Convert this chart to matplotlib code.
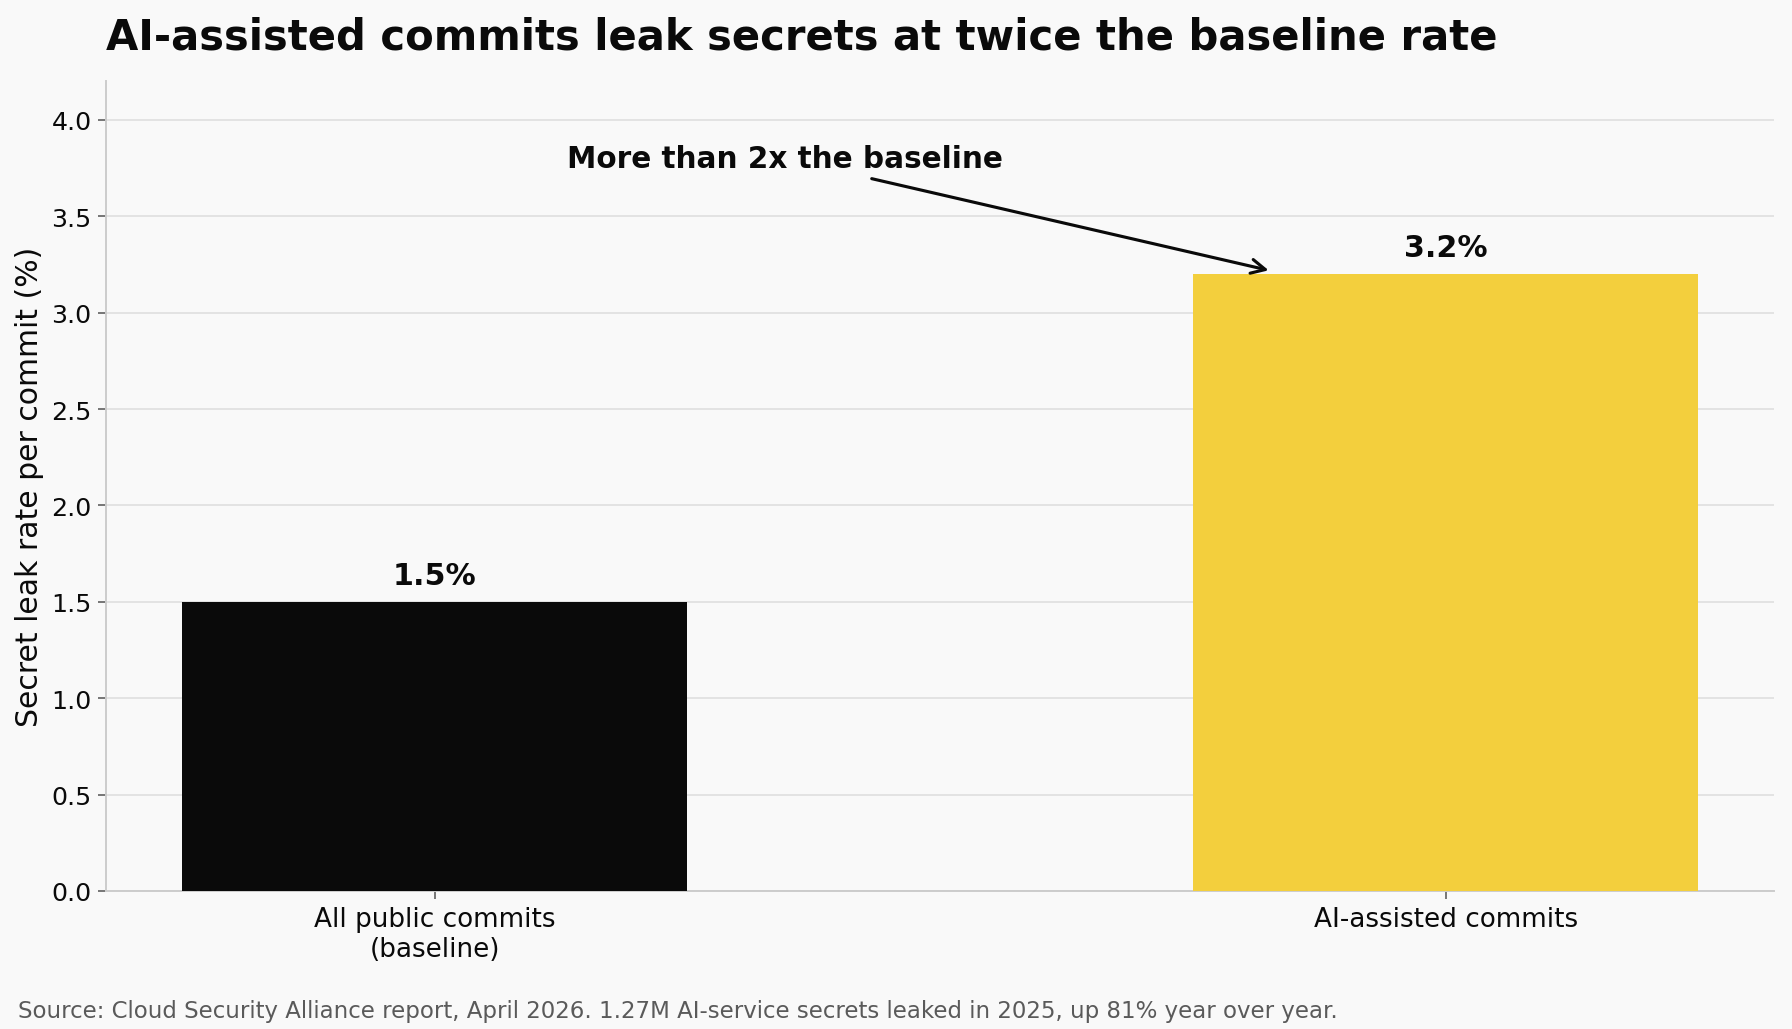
import matplotlib
matplotlib.use("Agg")
import matplotlib.pyplot as plt

# Data
categories = ["All public commits\n(baseline)", "AI-assisted commits"]
leak_rates = [1.5, 3.2]
bar_labels = ["1.5%", "3.2%"]
bar_colors = ["#0a0a0a", "#f3cf3d"]

title = "AI-assisted commits leak secrets at twice the baseline rate"
ylabel = "Secret leak rate per commit (%)"
note = "More than 2x the baseline"
source = ("Source: Cloud Security Alliance report, April 2026. "
          "1.27M AI-service secrets leaked in 2025, up 81% year over year.")

bg = "#f9f9f9"
plt.rcParams["font.family"] = ["DejaVu Sans"]

fig = plt.figure(figsize=(12.8, 7.357), dpi=140, facecolor=bg)
ax = fig.add_axes([0.0593, 0.134, 0.9307, 0.786], facecolor=bg)

x = range(len(categories))
ax.bar(x, leak_rates, width=0.5, color=bar_colors, zorder=3)

for xi, v, lab in zip(x, leak_rates, bar_labels):
    ax.annotate(lab, xy=(xi, v), xytext=(0, 6), textcoords="offset points",
                ha="center", va="bottom", fontsize=15.5, fontweight="bold",
                color="#0a0a0a")

ax.annotate(note, xy=(0.825, 3.22), xytext=(0.346, 3.8),
            ha="center", va="center", fontsize=15.2, fontweight="bold",
            color="#0a0a0a",
            arrowprops=dict(arrowstyle="->", color="#0a0a0a", lw=1.6,
                            shrinkA=4, shrinkB=0, mutation_scale=18))

ax.set_ylim(0, 4.2)
ax.set_yticks([0.0, 0.5, 1.0, 1.5, 2.0, 2.5, 3.0, 3.5, 4.0])
ax.set_xticks(list(x))
ax.set_xticklabels(categories)
ax.tick_params(axis="both", labelcolor="#0a0a0a", length=4,
               width=0.8, color="#555555")
ax.tick_params(axis="y", labelsize=13)
ax.tick_params(axis="x", labelsize=13.5)
ax.set_ylabel(ylabel, fontsize=15.4, color="#0a0a0a")

ax.grid(axis="y", color="#e3e3e3", linewidth=1.0, zorder=0)
ax.set_axisbelow(True)
for side in ["top", "right"]:
    ax.spines[side].set_visible(False)
for side in ["left", "bottom"]:
    ax.spines[side].set_color("#cccccc")
    ax.spines[side].set_linewidth(1.0)

fig.text(0.0593, 0.952, title, fontsize=21.5, fontweight="bold",
         color="#0a0a0a", ha="left", va="baseline")
fig.text(0.0102, 0.012, source, fontsize=11.75, color="#5a5a5a",
         ha="left", va="baseline")

fig.savefig("out.png", dpi=140, facecolor=bg)
